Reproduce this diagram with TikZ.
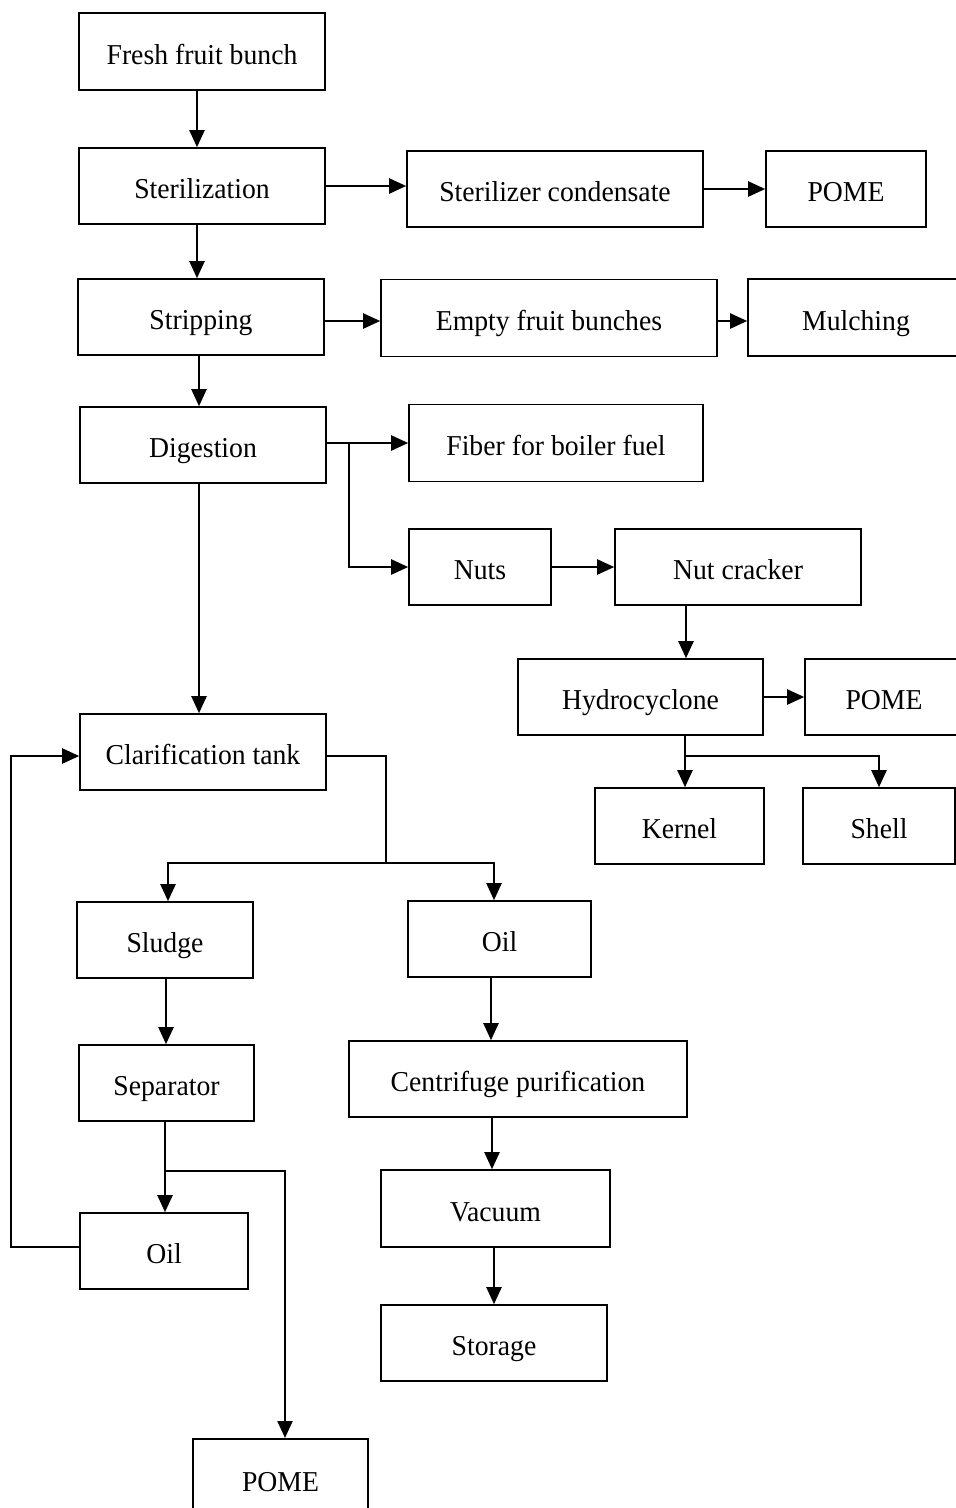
\documentclass[tikz,border=0pt]{standalone}
\usepackage{fontspec}
\setmainfont{Liberation Serif}
\usetikzlibrary{arrows.meta}
\tikzset{
  box/.style={draw, line width=1.6pt, inner sep=0pt, text height=25pt, text depth=0pt,
    font=\fontsize{27.7}{32}\selectfont},
  arr/.style={line width=2.2pt, -{Triangle[length=17pt,width=15pt]}},
  ln/.style={line width=2.2pt},
}
\newcommand{\bx}[6]{\node[box, minimum width=#4pt, minimum height=#5pt] (#1) at (#2,#3) {\scalebox{1}[1.04]{#6}};}
\begin{document}
\begin{tikzpicture}[x=1pt,y=-1pt]
\useasboundingbox (0,0) rectangle (956,1508);
% nodes
\bx{ffb}{202}{51.5}{246}{77}{Fresh fruit bunch}
\bx{ster}{202}{186}{246}{76}{Sterilization}
\bx{sc}{555}{189}{296}{76}{Sterilizer condensate}
\bx{pomeA}{846}{189}{160}{76}{POME}
\bx{strip}{201}{317}{246}{76}{Stripping}
\bx{efb}{549}{318}{336}{77}{Empty fruit bunches}
\bx{mulch}{856}{317.5}{216}{77}{Mulching}
\bx{dig}{203}{445}{246}{76}{Digestion}
\bx{fiber}{556}{443}{294}{77}{Fiber for boiler fuel}
\bx{nuts}{480}{567}{142}{76}{Nuts}
\bx{nc}{738}{567}{246}{76}{Nut cracker}
\bx{hydro}{640.5}{697}{245}{76}{Hydrocyclone}
\bx{pomeB}{884}{697}{158}{76}{POME}
\bx{kernel}{679.5}{826}{169}{76}{Kernel}
\bx{shell}{879}{826}{152}{76}{Shell}
\bx{clar}{203}{752}{246}{76}{Clarification tank}
\bx{sludge}{165}{940}{176}{76}{Sludge}
\bx{oilA}{499.5}{939}{183}{76}{Oil}
\bx{sep}{166.5}{1083}{175}{76}{Separator}
\bx{cent}{518}{1079}{338}{76}{Centrifuge purification}
\bx{vac}{495.5}{1208.5}{229}{77}{Vacuum}
\bx{oilB}{164}{1251}{168}{76}{Oil}
\bx{stor}{494}{1343}{226}{76}{Storage}
\node[box, minimum width=175pt, minimum height=80pt, anchor=north] (pomeC) at (280.5,1438) {\scalebox{1}[1.04]{POME}};
% helper coordinates
\coordinate (c1) at (197,0);
\coordinate (c2) at (199,0);
\coordinate (hx) at (686,0);
\coordinate (dj) at (349,443);
\coordinate (cj) at (386,863);
\coordinate (sj) at (165,1171);
% connectors
\draw[arr] (ffb.south -| c1) -- (ster.north -| c1);
\draw[arr] (ster.east) -- (ster.east -| sc.west);
\draw[arr] (sc.east) -- (pomeA.west);
\draw[arr] (ster.south -| c1) -- (strip.north -| c1);
\draw[arr] (strip.east |- 0,321) -- (efb.west |- 0,321);
\draw[arr] (efb.east |- 0,321) -- (mulch.west |- 0,321);
\draw[arr] (strip.south -| c2) -- (dig.north -| c2);
\draw[arr] (fiber.west -| dig.east) -- (fiber.west);
\draw[arr] (dj) |- (nuts.west);
\draw[arr] (nuts.east) -- (nc.west);
\draw[arr] (nc.south -| hx) -- (hydro.north -| hx);
\draw[arr] (hydro.east) -- (pomeB.west);
\draw[arr] (hydro.south -| 685,0) -- (kernel.north -| 685,0);
\draw[arr] (685,756) -| (shell.north);
\draw[arr] (dig.south -| c2) -- (clar.north -| c2);
\draw[ln] (clar.east |- 0,756) -| (cj);
\draw[arr] (cj) -| (sludge.north -| 168,0);
\draw[arr] (cj) -| (oilA.north -| 494,0);
\draw[arr] (sludge.south -| 166,0) -- (sep.north -| 166,0);
\draw[arr] (oilA.south -| 491,0) -- (cent.north -| 491,0);
\draw[arr] (cent.south -| 492,0) -- (vac.north -| 492,0);
\draw[arr] (vac.south -| 494,0) -- (stor.north -| 494,0);
\draw[arr] (sep.south -| sj) -- (oilB.north -| sj);
\draw[arr] (sj) -| (pomeC.north -| 285,0);
\draw[arr] (oilB.west |- 0,1247) -- (11,1247) |- (clar.west |- 0,756);
\end{tikzpicture}
\end{document}
